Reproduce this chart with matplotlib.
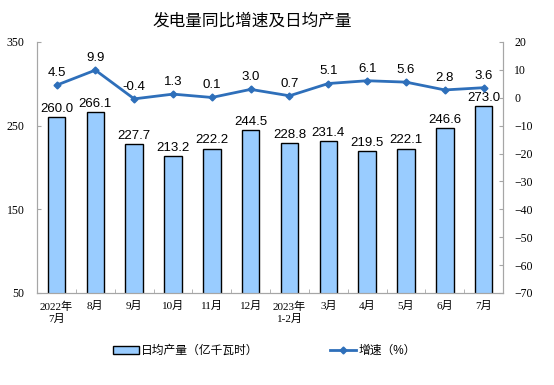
import matplotlib.pyplot as plt
import numpy as np

plt.rcParams['font.family'] = ['Liberation Sans', 'Noto Sans CJK SC']

months = ["2022年\n7月", "8月", "9月", "10月", "11月", "12月", "2023年\n1-2月",
          "3月", "4月", "5月", "6月", "7月"]
daily_output = [260.0, 266.1, 227.7, 213.2, 222.2, 244.5, 228.8, 231.4, 219.5, 222.1, 246.6, 273.0]
growth = [4.5, 9.9, -0.4, 1.3, 0.1, 3.0, 0.7, 5.1, 6.1, 5.6, 2.8, 3.6]

tick_font = ['Liberation Serif', 'Noto Sans CJK SC']
grey = '#a6a6a6'
line_color = '#2e6fba'

fig = plt.figure(figsize=(5.54, 3.85), dpi=100)
ax = fig.add_axes([0.067, 0.239, 0.841, 0.652])
ax2 = ax.twinx()

x = np.arange(len(months))
bars = ax.bar(x, daily_output, width=0.45, color='#99ccff', edgecolor='black',
              linewidth=1.0, bottom=0, label="日均产量（亿千瓦时）", zorder=2)
for xi, v in zip(x, daily_output):
    ax.text(xi, v + 3, f"{v:.1f}", ha='center', va='bottom', fontsize=9.5)

ax.set_ylim(50, 350)
ax.set_yticks([50, 150, 250, 350])
ax.set_xlim(-0.5, len(months) - 0.5)
ax.set_xticks(x)
ax.set_xticklabels(months, fontsize=8, family=tick_font, linespacing=1.3)
ax.set_xticks(np.arange(-0.5, len(months)), minor=True)
ax.tick_params(axis='x', which='major', length=0, pad=6)
ax.tick_params(axis='x', which='minor', length=3, color=grey, direction='in')
ax.tick_params(axis='y', length=3, color=grey, labelsize=8.5, direction='in', pad=9)
for lbl in ax.get_yticklabels():
    lbl.set_family(tick_font)

ax2.plot(x, growth, color=line_color, linewidth=2, marker='D', markersize=3.5,
         label="增速（%）", zorder=3)
for xi, v in zip(x, growth):
    ax2.text(xi, v + 2.2, f"{v:.1f}", ha='center', va='bottom', fontsize=9.5)
ax2.set_ylim(-70, 20)
ax2.set_yticks(np.arange(-70, 21, 10))
ax2.tick_params(axis='y', length=3, color=grey, labelsize=8.5, direction='in', pad=8)
for lbl in ax2.get_yticklabels():
    lbl.set_family(tick_font)

for a in (ax, ax2):
    a.spines['top'].set_visible(False)
    for s in ('left', 'right', 'bottom'):
        a.spines[s].set_color(grey)

fig.text(0.455, 0.945, "发电量同比增速及日均产量", ha='center', va='center', fontsize=12)

handles = [bars, ax2.get_lines()[0]]
labels = ["日均产量（亿千瓦时）", "增速（%）"]
fig.legend(handles, labels, loc='center', bbox_to_anchor=(0.477, 0.088), ncol=2,
           frameon=False, fontsize=8.5, columnspacing=6, handlelength=2.2,
           handletextpad=0.2)

fig.savefig("out.png", dpi=100)
